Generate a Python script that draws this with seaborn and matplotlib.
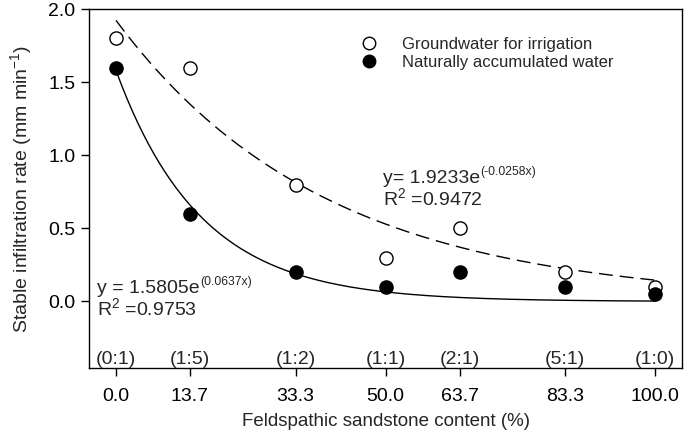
import numpy as np
import pandas as pd
import seaborn as sns
import matplotlib.pyplot as plt
from matplotlib.lines import Line2D

# data
content = [0.0, 13.7, 33.3, 50.0, 63.7, 83.3, 100.0]
ratio_labels = ['(0:1)', '(1:5)', '(1:2)', '(1:1)', '(2:1)', '(5:1)', '(1:0)']
groundwater = [1.8, 1.6, 0.8, 0.3, 0.5, 0.2, 0.1]
natural = [1.6, 0.6, 0.2, 0.1, 0.2, 0.1, 0.05]

# fitted exponential models printed on the chart
gw_a, gw_b = 1.9233, -0.0258
nat_a, nat_b = 1.5805, -0.0637

sns.set_theme(style='ticks')
plt.rcParams['font.family'] = ['Liberation Sans', 'DejaVu Sans']
plt.rcParams['mathtext.fontset'] = 'custom'
plt.rcParams['mathtext.rm'] = 'Liberation Sans'
plt.rcParams['mathtext.it'] = 'Liberation Sans:italic'
plt.rcParams['axes.unicode_minus'] = False

pts = pd.DataFrame({'content': content, 'gw': groundwater, 'nat': natural})
xfit = np.linspace(0, 100, 200)
fit = pd.DataFrame({'x': xfit,
                    'gw': gw_a * np.exp(gw_b * xfit),
                    'nat': nat_a * np.exp(nat_b * xfit)})

fig = plt.figure(figsize=(6.85, 4.37), dpi=100)
ax = fig.add_axes([0.130, 0.158, 0.866, 0.821])

sns.lineplot(data=fit, x='x', y='gw', ax=ax, color='black', lw=1.0)
ax.lines[-1].set_dashes([10, 5])
sns.lineplot(data=fit, x='x', y='nat', ax=ax, color='black', lw=1.0)

sns.scatterplot(data=pts, x='content', y='gw', ax=ax, s=90, facecolor='white',
                edgecolor='black', linewidth=1.0, zorder=3)
sns.scatterplot(data=pts, x='content', y='nat', ax=ax, s=90, color='black',
                edgecolor='black', linewidth=1.0, zorder=4)

ax.set_xlim(-5, 105)
ax.set_ylim(-0.455, 2.0)
ax.set_xticks(content)
ax.set_xticklabels([f'{c:.1f}' for c in content])
ax.set_yticks([0.0, 0.5, 1.0, 1.5, 2.0])
ax.set_yticklabels(['0.0', '0.5', '1.0', '1.5', '2.0'])
ax.tick_params(direction='out', length=5.5, width=1, labelsize=14, colors='black')
ax.tick_params(axis='x', pad=9)
ax.tick_params(axis='y', pad=4.5)
for sp in ax.spines.values():
    sp.set_linewidth(1.0)
    sp.set_color('black')

ax.set_xlabel('Feldspathic sandstone content (%)', fontsize=13.5, labelpad=6)
ax.set_ylabel(r'Stable infiltration rate (mm min$^{\mathregular{-1}}$)', fontsize=14, labelpad=10)

for c, lab in zip(content, ratio_labels):
    ax.text(c, -0.452, lab, ha='center', va='bottom', fontsize=14)

# equations: base text plus a superscript placed right after it
eq1 = ax.text(49.5, 0.78, 'y= 1.9233e', fontsize=14, va='bottom')
ax.annotate('(-0.0258x)', xy=(1, 1), xycoords=eq1, xytext=(0, 3),
            textcoords='offset points', fontsize=8.7, va='top')
ax.text(49.5, 0.78, r'R$^{\mathregular{2}}$ =0.9472', fontsize=14, va='top')

eq2 = ax.text(-3.5, 0.03, 'y = 1.5805e', fontsize=14, va='bottom')
ax.annotate('(0.0637x)', xy=(1, 1), xycoords=eq2, xytext=(0, 3),
            textcoords='offset points', fontsize=8.7, va='top')
ax.text(-3.5, 0.03, r'R$^{\mathregular{2}}$ =0.9753', fontsize=14, va='top')

handles = [Line2D([], [], ls='', marker='o', ms=9, mfc='white', mec='black', mew=1),
           Line2D([], [], ls='', marker='o', ms=9, mfc='black', mec='black', mew=1)]
ax.legend(handles, ['Groundwater for irrigation', 'Naturally accumulated water'],
          loc='upper left', bbox_to_anchor=(0.43, 0.947), frameon=False, fontsize=12,
          handletextpad=1.0, labelspacing=0.2, borderpad=0)

fig.savefig('out.png', dpi=100)
